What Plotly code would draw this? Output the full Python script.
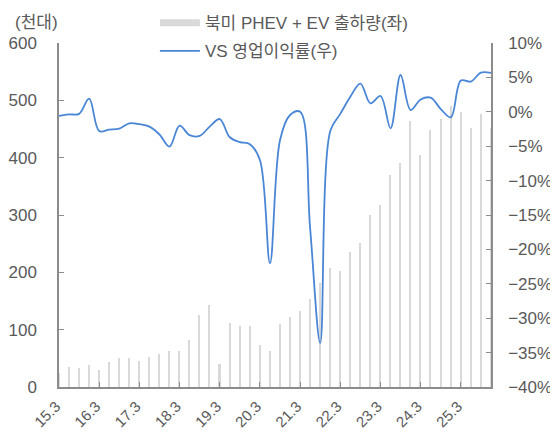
import plotly.graph_objects as go

quarters = [
    "15.3", "15.6", "15.9", "15.12", "16.3", "16.6", "16.9", "16.12",
    "17.3", "17.6", "17.9", "17.12", "18.3", "18.6", "18.9", "18.12",
    "19.3", "19.6", "19.9", "19.12", "20.3", "20.6", "20.9", "20.12",
    "21.3", "21.6", "21.9", "21.12", "22.3", "22.6", "22.9", "22.12",
    "23.3", "23.6", "23.9", "23.12", "24.3", "24.6", "24.9", "24.12",
    "25.3", "25.6", "25.9", "25.12",
]
shipments = [
    25, 35, 33, 38, 30, 43, 50, 50,
    46, 53, 58, 63, 63, 82, 125, 143,
    40, 112, 106, 106, 73, 63, 110, 122,
    133, 153, 181, 208, 202, 235, 251, 300,
    317, 370, 390, 464, 405, 448, 467, 490,
    480, 451, 477, 451,
]
margin_pct = [
    -0.6, -0.37, -0.3, 1.9, -2.8, -2.6, -2.45, -1.67,
    -1.8, -2.16, -3.3, -5.07, -2.0, -3.4, -3.5, -2.16,
    -1.05, -3.7, -4.4, -4.7, -7.0, -22.0, -4.1, -0.47,
    0.0, -17.0, -33.6, -2.8, -0.3, 2.2, 4.1, 1.23,
    2.3, -2.4, 5.35, 0.26, 1.8, 2.05, 0.4, -0.8,
    4.55, 4.4, 5.7, 5.65,
]
tick_labels = ["15.3", "16.3", "17.3", "18.3", "19.3", "20.3",
               "21.3", "22.3", "23.3", "24.3", "25.3"]

bar_name = "북미 PHEV + EV 출하량(좌)"
line_name = "VS 영업이익률(우)"

font_family = "Liberation Sans, Noto Sans CJK KR, sans-serif"
txt = "#595959"
axis_col = "#8c8c8c"

fig = go.Figure()
fig.add_trace(go.Bar(
    x=quarters, y=shipments, name=bar_name, width=0.15,
    marker=dict(color="#d9d9d9", line=dict(width=0)),
    showlegend=False, yaxis="y",
))
# legend entry for bars (wide gray swatch like the original)
fig.add_trace(go.Scatter(
    x=[None], y=[None], mode="lines", name=bar_name,
    line=dict(color="#d9d9d9", width=7), legendgroup="a", yaxis="y",
))
fig.add_trace(go.Scatter(
    x=quarters, y=margin_pct, name=line_name, mode="lines",
    line=dict(color="#4a86d6", width=1.8, shape="spline", smoothing=1.0),
    legendgroup="b", yaxis="y2",
))

fig.update_layout(
    width=550, height=424,
    margin=dict(l=51, r=67, t=35, b=45, autoexpand=False),
    paper_bgcolor="white", plot_bgcolor="white",
    font=dict(family=font_family, size=17, color=txt),
    bargap=0,
    xaxis=dict(
        type="category", categoryorder="array", categoryarray=quarters,
        range=[0, 43],
        tickmode="array", tickvals=tick_labels, ticktext=tick_labels,
        tickangle=-45, ticks="inside", ticklen=5, tickcolor=axis_col,
        showline=True, linecolor=axis_col, linewidth=1.5,
        showgrid=False, zeroline=False, ticklabelstandoff=3,
        ticklabelshift=-3,
        tickfont=dict(size=15, color=txt),
    ),
    yaxis=dict(
        range=[0, 600], dtick=100, ticks="inside", ticklen=5, tickcolor=axis_col,
        showline=True, linecolor=axis_col, linewidth=1.5,
        showgrid=False, zeroline=False, ticklabelstandoff=17,
        tickfont=dict(size=17, color=txt),
    ),
    yaxis2=dict(
        range=[-40, 10], dtick=5, ticksuffix="%", overlaying="y", side="right",
        ticks="inside", ticklen=5, tickcolor=axis_col,
        showline=True, linecolor=axis_col, linewidth=1.5,
        showgrid=False, zeroline=False, ticklabelstandoff=12,
        tickfont=dict(size=17, color=txt),
    ),
    legend=dict(
        xref="paper", yref="paper", x=0.222, y=1.11,
        xanchor="left", yanchor="top",
        bgcolor="rgba(0,0,0,0)", font=dict(size=17, color=txt),
        traceorder="grouped", tracegroupgap=3, itemwidth=40,
    ),
    annotations=[dict(
        text="(천대)", xref="paper", yref="paper",
        x=-46 / 432, y=1 + 20 / 344, xanchor="left", yanchor="middle",
        showarrow=False, font=dict(size=17, color=txt),
    )],
)

fig.write_html("out.html")
